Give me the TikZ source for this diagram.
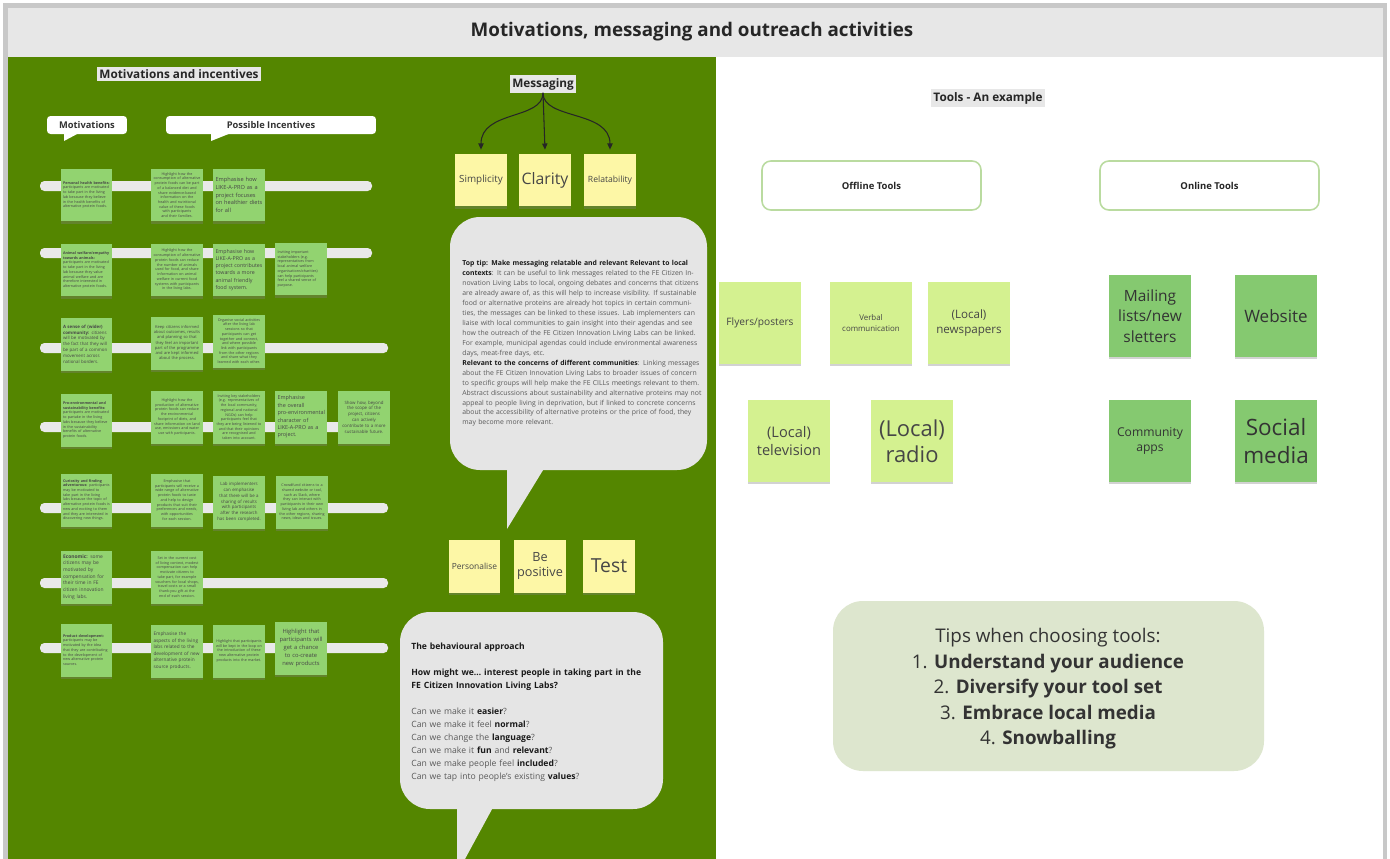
\documentclass[tikz,border=0pt]{standalone}
\usepackage{fontspec}
\setmainfont{Open Sans}
\usepackage{tikz}
\usetikzlibrary{shadows}
\usetikzlibrary{arrows.meta}
\usepackage{xcolor}

\definecolor{frameGray}{RGB}{200,200,200}
\definecolor{headGray}{RGB}{231,231,231}
\definecolor{fieldGreen}{RGB}{84,134,0}
\definecolor{barGray}{RGB}{233,233,233}
\definecolor{bubbleGray}{RGB}{229,229,229}
\definecolor{leafNote}{RGB}{146,211,112}
\definecolor{lemonNote}{RGB}{253,247,166}
\definecolor{limeNote}{RGB}{212,241,144}
\definecolor{webNote}{RGB}{133,201,112}
\definecolor{tipFill}{RGB}{221,230,206}
\definecolor{toolEdge}{RGB}{186,219,160}
\definecolor{inkGray}{RGB}{70,70,70}

\newcommand{\fsz}[2]{\fontsize{#1}{#2}\selectfont}

\tikzset{
    sheetlabel/.style = {fill=headGray, inner sep=1.5pt, font=\bfseries\fsz{6.7}{8}, text=black!85},
    callout/.style = {fill=white, rounded corners=2pt, minimum height=0.36cm, inner sep=0pt, font=\bfseries\fsz{5.3}{6.5}, text=black!80},
    notebase/.style = {inner sep=0pt, align=center, text=inkGray,
        execute at begin node={\hyphenpenalty=10000\exhyphenpenalty=10000},
        drop shadow={shadow xshift=0pt, shadow yshift=-1.3pt, opacity=0.35}},
    leaf/.style = {notebase, fill=leafNote, minimum width=1.04cm, minimum height=1.06cm, text width=0.94cm, font=\fsz{2.1}{2.7}},
    lemon/.style = {notebase, fill=lemonNote, minimum width=1.04cm, minimum height=1.06cm, text width=1cm},
    lime/.style = {notebase, fill=limeNote, minimum width=1.64cm, minimum height=1.64cm, text width=1.55cm},
    webnote/.style = {notebase, fill=webNote, minimum width=1.64cm, minimum height=1.64cm, text width=1.55cm, text=black!80},
    toolbox/.style = {draw=toolEdge, line width=0.9pt, fill=white, rounded corners=5pt, minimum width=4.38cm, minimum height=0.98cm, font=\bfseries\fsz{5.4}{6.5}, text=black!85},
    branch/.style = {draw=black!85, line width=0.6pt, -{Triangle[length=3.5pt,width=3pt]}}
}

\begin{document}
\begin{tikzpicture}[x=0.02cm, y=-0.02cm]
    \useasboundingbox (0,0) rectangle (1390,859);
    \fill[white] (0,0) rectangle (1390,859);
    \fill[frameGray] (3,3) rectangle (1387,859);
    \fill[headGray] (8,8) rectangle (1383,57);
    \fill[fieldGreen] (8,57) rectangle (716,859);
    \fill[white] (716,57) rectangle (1383,859);
    \node[font=\bfseries\fsz{10.7}{13}, text=black!85] (title) at (692,32) {Motivations, messaging and outreach activities};

    \begin{scope}
        \node[sheetlabel] (motinc) at (179,74) {Motivations and incentives};
        \node[callout, minimum width=1.6cm] (motcol) at (87,125) {Motivations};
        \fill[white] (64,133) -- (64,141) -- (79,133) -- cycle;
        \node[callout, minimum width=4.2cm] (inccol) at (271,125) {Possible Incentives};
        \fill[white] (211,133) -- (211,141) -- (231,133) -- cycle;

        \foreach \y/\xe in {186/372, 253/372, 348/388, 427/388, 508/388, 583/388, 648/388}
            \fill[barGray, rounded corners=2.5pt] (40,\y-5) rectangle (\xe,\y+5);

        \node[leaf, align=left] (m1) at (86.5,195) {\textbf{Personal health benefits:} participants are motivated to take part in the living lab because they believe in the health benefits of alternative protein foods.};
        \node[leaf] (i11) at (177,195) {Highlight how the consumption of alternative protein foods can be part of a balanced diet and share evidence-based information on the health and nutritional value of these foods with participants and their families.};
        \node[leaf, align=left, font=\fsz{3.2}{4.4}] (i12) at (239,195) {Emphasise how LIKE-A-PRO as a project focuses on healthier diets for all};

        \node[leaf, align=left] (m2) at (86.5,270) {\textbf{Animal welfare/empathy towards animals:} participants are motivated to take part in the living lab because they value animal welfare and are therefore interested in alternative protein foods.};
        \node[leaf] (i21) at (177,270) {Highlight how the consumption of alternative protein foods can reduce the number of animals used for food, and share information on animal welfare in current food systems with participants in the living labs.};
        \node[leaf, align=left, font=\fsz{3}{4.1}] (i22) at (239,270) {Emphasise how LIKE-A-PRO as a project contributes towards a more animal friendly food system.};
        \node[leaf, align=left] (i23) at (301,269) {Inviting important stakeholders (e.g. representatives from local animal welfare organisations/charities) can help participants feel a shared sense of purpose.};

        \node[leaf, align=left, font=\fsz{2.5}{3.3}] (m3) at (86.5,344) {\textbf{A sense of (wider) community:} citizens will be motivated by the fact that they will be part of a common movement across national borders.};
        \node[leaf, font=\fsz{2.3}{3}] (i31) at (177,343) {Keep citizens informed about outcomes, results and planning so that they feel an important part of the programme and are kept informed about the process.};
        \node[leaf] (i32) at (239,341) {Organise social activities after the living lab sessions so that participants can get together and connect, and where possible link with participants from the other regions and share what they learned with each other.};

        \node[leaf, align=left] (m4) at (86.5,420) {\textbf{Pro-environmental and sustainability benefits:} participants are motivated to partake in the living labs because they believe in the sustainability benefits of alternative protein foods.};
        \node[leaf] (i41) at (177,417) {Highlight how the production of alternative protein foods can reduce the environmental footprint of diets, and share information on land use, emissions and water use with participants.};
        \node[leaf] (i42) at (239,417) {Inviting key stakeholders (e.g. representatives of the local community, regional and national NGOs) can help participants feel that they are being listened to and that their opinions are recognised and taken into account.};
        \node[leaf, align=left, font=\fsz{3.1}{4.2}] (i43) at (301,417) {Emphasise the overall pro-environmental character of LIKE-A-PRO as a project.};
        \node[leaf, font=\fsz{2.5}{3.3}] (i44) at (364,417) {Show how, beyond the scope of the project, citizens can actively contribute to a more sustainable future.};

        \node[leaf, align=left] (m5) at (86.5,500) {\textbf{Curiosity and finding adventurous:} participants may be motivated to take part in the living labs because the topic of alternative protein foods is new and exciting to them and they are interested in discovering new things.};
        \node[leaf] (i51) at (177,500) {Emphasise that participants will receive a wide range of alternative protein foods to taste and help to design products that suit their preferences and needs, with opportunities for each session.};
        \node[leaf, font=\fsz{2.5}{3.3}] (i52) at (239,502) {Lab implementers can emphasise that there will be a sharing of results with participants after the research has been completed.};
        \node[leaf] (i53) at (302,502) {Crowdfund citizens to a shared website or tool, such as Slack, where they can interact with participants in their own living lab and others in the other regions, sharing news, ideas and issues.};

        \node[leaf, align=left, font=\fsz{2.8}{3.8}] (m6) at (86.5,577) {\textbf{Economic:} some citizens may be motivated by compensation for their time in FE citizen innovation living labs.};
        \node[leaf] (i61) at (177,577) {Set in the current cost of living context, modest compensation can help motivate citizens to take part, for example vouchers for local shops, travel costs or a small thank-you gift at the end of each session.};

        \node[leaf, align=left] (m7) at (86.5,650) {\textbf{Product development:} participants may be motivated by the idea that they are contributing to the development of new alternative protein sources.};
        \node[leaf, align=left, font=\fsz{2.7}{3.7}] (i71) at (177,651) {Emphasise the aspects of the living labs related to the development of new alternative protein source products.};
        \node[leaf] (i72) at (239,651) {Highlight that participants will be kept in the loop on the introduction of these new alternative protein products into the market.};
        \node[leaf, font=\fsz{3.3}{4.5}] (i73) at (301,648) {Highlight that participants will get a chance to co-create new products};
    \end{scope}

    \begin{scope}
        \node[sheetlabel] (msg) at (543,84) {Messaging};
        \node[lemon, font=\fsz{5.6}{7}] (simp) at (481,180) {Simplicity};
        \node[lemon, font=\fsz{9}{11}] (clar) at (545,180) {Clarity};
        \node[lemon, font=\fsz{4.9}{6}] (relat) at (610,180) {Relatability};
        \draw[branch] (msg.south) .. controls (543,120) and (481,110) .. ([yshift=2pt]simp.north);
        \draw[branch] (msg.south) -- ([yshift=2pt]clar.north);
        \draw[branch] (msg.south) .. controls (543,120) and (610,110) .. ([yshift=2pt]relat.north);

        \fill[bubbleGray, rounded corners=0.6cm] (450,217) rectangle (707,470);
        \fill[bubbleGray] (507,462) -- (507,529) -- (548,462) -- cycle;
        \node[anchor=north west, text width=4.8cm, align=left, inner sep=0pt, text=black!65, font=\fsz{3.9}{5.67}] (tip) at (462,260) {\textcolor{black!90}{\textbf{Top tip: Make messaging relatable and relevant Relevant to local contexts}}: It can be useful to link messages related to the FE Citizen Innovation Living Labs to local, ongoing debates and concerns that citizens are already aware of, as this will help to increase visibility. If sustainable food or alternative proteins are already hot topics in certain communities, the messages can be linked to these issues. Lab implementers can liaise with local communities to gain insight into their agendas and see how the outreach of the FE Citizen Innovation Living Labs can be linked. For example, municipal agendas could include environmental awareness days, meat-free days, etc.\\
        \textcolor{black!90}{\textbf{Relevant to the concerns of different communities}}: Linking messages about the FE Citizen Innovation Living Labs to broader issues of concern to specific groups will help make the FE CILLs meetings relevant to them. Abstract discussions about sustainability and alternative proteins may not appeal to people living in deprivation, but if linked to concrete concerns about the accessibility of alternative proteins or the price of food, they may become more relevant.};

        \node[lemon, font=\fsz{4.8}{6}] (pers) at (474.5,566) {Personalise};
        \node[lemon, font=\fsz{7.2}{9}] (posi) at (540,566) {Be\\positive};
        \node[lemon, font=\fsz{11}{13}] (test) at (609,566) {Test};

        \fill[bubbleGray, rounded corners=0.6cm] (400,612) rectangle (663,809);
        \fill[bubbleGray] (457,800) -- (457,859) -- (465,859) -- (497,800) -- cycle;
        \node[anchor=north west, text width=4.7cm, align=left, inner sep=0pt, text=black!65, font=\fsz{4.9}{7.4}] (behav) at (411,643) {\textcolor{black!90}{\textbf{The behavioural approach}}\\[7.4pt]
        \textcolor{black!90}{\textbf{How might we\ldots\ interest people in taking part in the FE Citizen Innovation Living Labs?}}\\[7.4pt]
        Can we make it \textcolor{black!90}{\textbf{easier}}?\\
        Can we make it feel \textcolor{black!90}{\textbf{normal}}?\\
        Can we change the \textcolor{black!90}{\textbf{language}}?\\
        Can we make it \textcolor{black!90}{\textbf{fun}} and \textcolor{black!90}{\textbf{relevant}}?\\
        Can we make people feel \textcolor{black!90}{\textbf{included}}?\\
        Can we tap into people's existing \textcolor{black!90}{\textbf{values}}?};
    \end{scope}

    \begin{scope}
        \node[sheetlabel] (tools) at (988,98) {Tools - An example};
        \node[toolbox] (offline) at (871.5,185.5) {Offline Tools};
        \node[toolbox] (online) at (1209.5,185.5) {Online Tools};

        \node[lime, font=\fsz{5.8}{7}] (flyer) at (760,323) {Flyers/posters};
        \node[lime, font=\fsz{4.5}{6}] (verbal) at (871,323) {Verbal\\communication};
        \node[lime, font=\fsz{6.6}{8.2}] (paper) at (969,323) {(Local)\\newspapers};
        \node[lime, font=\fsz{8.3}{10.5}] (telly) at (789,441) {(Local)\\television};
        \node[lime, font=\fsz{12.5}{15}] (radio) at (912,441) {(Local)\\radio};

        \node[webnote, font=\fsz{8.8}{11.5}] (mail) at (1150,316) {Mailing\\lists/new\\sletters};
        \node[webnote, font=\fsz{9.7}{12}] (site) at (1276,316) {Website};
        \node[webnote, font=\fsz{6.9}{9}] (apps) at (1150,441) {Community\\apps};
        \node[webnote, font=\fsz{12.8}{15.5}] (social) at (1276,441) {Social\\media};

        \fill[tipFill, rounded corners=0.6cm] (833,601) rectangle (1264,771);
        \node[align=center, text=black!80, font=\fsz{10.7}{14.5}] (tips) at (1048,689) {Tips when choosing tools:\\
        1. \textbf{Understand your audience}\\
        2. \textbf{Diversify your tool set}\\
        3. \textbf{Embrace local media}\\
        4. \textbf{Snowballing}};
    \end{scope}
\end{tikzpicture}
\end{document}
